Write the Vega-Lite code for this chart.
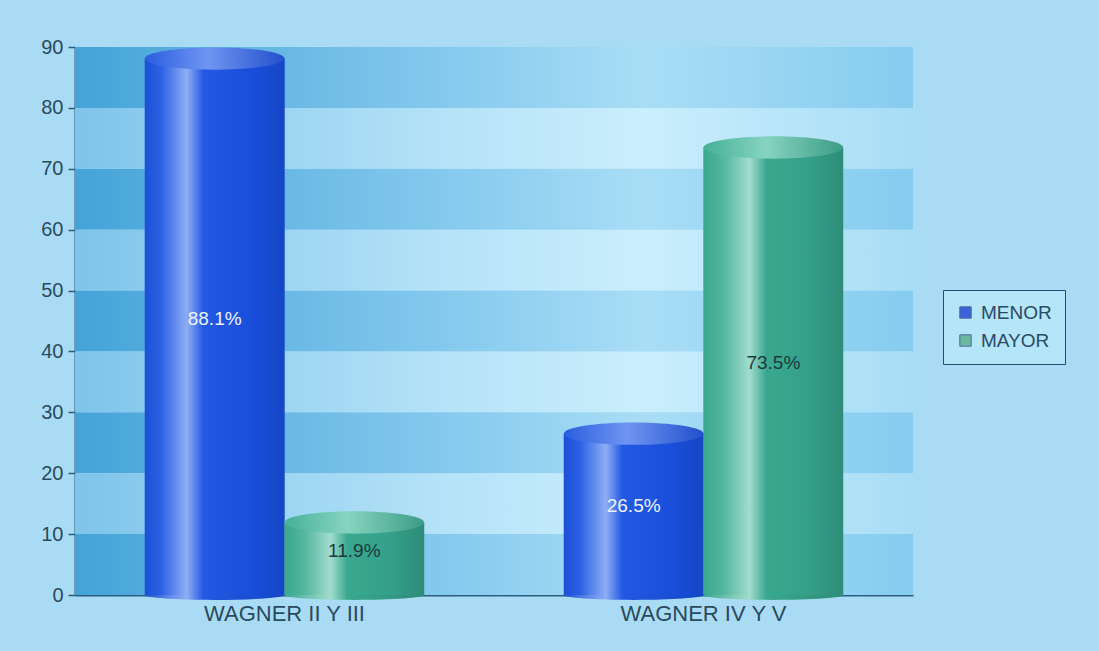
{
  "$schema": "https://vega.github.io/schema/vega-lite/v6.json",
  "autosize": "none",
  "width": 838,
  "height": 548,
  "padding": {"left": 75, "top": 47, "right": 186, "bottom": 56},
  "background": "#a9dcf4",
  "config": {
    "view": {"stroke": null},
    "font": "Liberation Sans"
  },
  "datasets": {
    "bars": [
      {"grupo": "WAGNER II Y III", "serie": "MENOR", "valor": 88.1, "label": "88.1%"},
      {"grupo": "WAGNER II Y III", "serie": "MAYOR", "valor": 11.9, "label": "11.9%"},
      {"grupo": "WAGNER IV Y V", "serie": "MENOR", "valor": 26.5, "label": "26.5%"},
      {"grupo": "WAGNER IV Y V", "serie": "MAYOR", "valor": 73.5, "label": "73.5%"}
    ],
    "bands": [
      {"y0": 0, "y1": 10, "tipo": "dark"},
      {"y0": 10, "y1": 20, "tipo": "light"},
      {"y0": 20, "y1": 30, "tipo": "dark"},
      {"y0": 30, "y1": 40, "tipo": "light"},
      {"y0": 40, "y1": 50, "tipo": "dark"},
      {"y0": 50, "y1": 60, "tipo": "light"},
      {"y0": 60, "y1": 70, "tipo": "dark"},
      {"y0": 70, "y1": 80, "tipo": "light"},
      {"y0": 80, "y1": 90, "tipo": "dark"}
    ]
  },
  "layer": [
    {
      "data": {"name": "bands"},
      "transform": [{"filter": "datum.tipo === 'dark'"}],
      "mark": {"type": "rect", "fill": {"gradient": "linear", "x1": 0, "x2": 1, "y1": 0, "y2": 0, "stops": [
        {"offset": 0, "color": "#45a3d8"},
        {"offset": 0.45, "color": "#86caee"},
        {"offset": 0.68, "color": "#a9ddf6"},
        {"offset": 1, "color": "#86ccef"}]}},
      "encoding": {
        "y": {"field": "y0", "type": "quantitative", "scale": {"domain": [0, 90], "nice": false},
          "axis": {"title": null, "values": [0, 10, 20, 30, 40, 50, 60, 70, 80, 90], "labelFontSize": 20, "labelColor": "#2a4a5e", "tickColor": "#2b5d7d", "tickSize": 7, "tickWidth": 1.5, "labelPadding": 5, "domainColor": "#2b5d7d", "domainWidth": 2, "grid": false}},
        "y2": {"field": "y1"}
      }
    },
    {
      "data": {"name": "bands"},
      "transform": [{"filter": "datum.tipo === 'light'"}],
      "mark": {"type": "rect", "fill": {"gradient": "linear", "x1": 0, "x2": 1, "y1": 0, "y2": 0, "stops": [
        {"offset": 0, "color": "#7fc4ea"},
        {"offset": 0.45, "color": "#b6e3f8"},
        {"offset": 0.68, "color": "#caeefc"},
        {"offset": 1, "color": "#a8ddf6"}]}},
      "encoding": {
        "y": {"field": "y0", "type": "quantitative"},
        "y2": {"field": "y1"}
      }
    },
    {
      "data": {"name": "bars"},
      "mark": {"type": "bar", "opacity": 1},
      "encoding": {
        "x": {"field": "grupo", "type": "nominal", "sort": null, "scale": {"paddingInner": 0, "paddingOuter": 0},
          "axis": {"title": null, "labelAngle": 0, "labelFontSize": 22, "labelColor": "#2a4a5e", "ticks": false, "labelPadding": 8, "domainColor": "#2b5d7d", "domainWidth": 2}},
        "xOffset": {"field": "serie", "type": "nominal", "sort": ["MENOR", "MAYOR"], "scale": {"paddingInner": 0, "paddingOuter": 0.5}},
        "y": {"field": "valor", "type": "quantitative"},
        "color": {"field": "serie", "type": "nominal", "sort": ["MENOR", "MAYOR"],
          "scale": {"domain": ["MENOR", "MAYOR"], "range": ["#3a62d8", "#6ab8a0"]},
          "legend": {"title": null, "orient": "none", "legendX": 868, "legendY": 243, "symbolType": "square", "symbolSize": 130,
            "labelFontSize": 19, "labelColor": "#2a4a66", "rowPadding": 8, "padding": 13,
            "fillColor": "#b5e5f8", "strokeColor": "#1f4f70", "labelOffset": 6, "symbolStrokeColor": "#4a6a9a", "symbolStrokeWidth": 1}}
      }
    },
    {
      "data": {"name": "bars"},
      "transform": [{"filter": "datum.serie === 'MENOR'"}],
      "mark": {"type": "point", "shape": "M-1,0A1,0.07,0,1,0,1,0A1,0.07,0,1,0,-1,0Z", "size": 19500, "filled": true, "opacity": 1, "strokeWidth": 0,
        "fill": {"gradient": "linear", "x1": 0, "x2": 1, "y1": 0, "y2": 0, "stops": [
          {"offset": 0, "color": "#1c50d6"}, {"offset": 0.3, "color": "#8eaef4"}, {"offset": 0.42, "color": "#2358e2"}, {"offset": 1, "color": "#1446c4"}]}},
      "encoding": {
        "x": {"field": "grupo", "type": "nominal", "sort": null},
        "xOffset": {"field": "serie", "type": "nominal", "sort": ["MENOR", "MAYOR"]},
        "y": {"datum": 0, "type": "quantitative"}
      }
    },
    {
      "data": {"name": "bars"},
      "transform": [{"filter": "datum.serie === 'MAYOR'"}],
      "mark": {"type": "point", "shape": "M-1,0A1,0.07,0,1,0,1,0A1,0.07,0,1,0,-1,0Z", "size": 19500, "filled": true, "opacity": 1, "strokeWidth": 0,
        "fill": {"gradient": "linear", "x1": 0, "x2": 1, "y1": 0, "y2": 0, "stops": [
          {"offset": 0, "color": "#3aa68e"}, {"offset": 0.33, "color": "#a2dccd"}, {"offset": 0.45, "color": "#3aa88f"}, {"offset": 1, "color": "#2e8c78"}]}},
      "encoding": {
        "x": {"field": "grupo", "type": "nominal", "sort": null},
        "xOffset": {"field": "serie", "type": "nominal", "sort": ["MENOR", "MAYOR"]},
        "y": {"datum": 0, "type": "quantitative"}
      }
    },
    {
      "data": {"name": "bars"},
      "transform": [{"filter": "datum.serie === 'MENOR'"}],
      "mark": {"type": "bar", "fill": {"gradient": "linear", "x1": 0, "x2": 1, "y1": 0, "y2": 0, "stops": [
        {"offset": 0, "color": "#1c50d6"}, {"offset": 0.12, "color": "#2d62e4"}, {"offset": 0.3, "color": "#8eaef4"}, {"offset": 0.42, "color": "#2358e2"}, {"offset": 0.75, "color": "#1a4fdc"}, {"offset": 1, "color": "#1446c4"}]}},
      "encoding": {
        "x": {"field": "grupo", "type": "nominal", "sort": null},
        "xOffset": {"field": "serie", "type": "nominal", "sort": ["MENOR", "MAYOR"]},
        "y": {"field": "valor", "type": "quantitative"}
      }
    },
    {
      "data": {"name": "bars"},
      "transform": [{"filter": "datum.serie === 'MAYOR'"}],
      "mark": {"type": "bar", "fill": {"gradient": "linear", "x1": 0, "x2": 1, "y1": 0, "y2": 0, "stops": [
        {"offset": 0, "color": "#3aa68e"}, {"offset": 0.15, "color": "#55b8a0"}, {"offset": 0.33, "color": "#a2dccd"}, {"offset": 0.45, "color": "#3aa88f"}, {"offset": 0.75, "color": "#35a08a"}, {"offset": 1, "color": "#2e8c78"}]}},
      "encoding": {
        "x": {"field": "grupo", "type": "nominal", "sort": null},
        "xOffset": {"field": "serie", "type": "nominal", "sort": ["MENOR", "MAYOR"]},
        "y": {"field": "valor", "type": "quantitative"}
      }
    },
    {
      "data": {"name": "bars"},
      "transform": [{"filter": "datum.serie === 'MENOR'"}],
      "mark": {"type": "point", "shape": "M-1,0A1,0.16,0,1,0,1,0A1,0.16,0,1,0,-1,0Z", "size": 19500, "filled": true, "opacity": 1, "strokeWidth": 0,
        "fill": {"gradient": "linear", "x1": 0, "x2": 1, "y1": 0, "y2": 0, "stops": [
          {"offset": 0, "color": "#2a5ee0"}, {"offset": 0.45, "color": "#6f95f2"}, {"offset": 1, "color": "#2250cc"}]}},
      "encoding": {
        "x": {"field": "grupo", "type": "nominal", "sort": null},
        "xOffset": {"field": "serie", "type": "nominal", "sort": ["MENOR", "MAYOR"]},
        "y": {"field": "valor", "type": "quantitative"}
      }
    },
    {
      "data": {"name": "bars"},
      "transform": [{"filter": "datum.serie === 'MAYOR'"}],
      "mark": {"type": "point", "shape": "M-1,0A1,0.16,0,1,0,1,0A1,0.16,0,1,0,-1,0Z", "size": 19500, "filled": true, "opacity": 1, "strokeWidth": 0,
        "fill": {"gradient": "linear", "x1": 0, "x2": 1, "y1": 0, "y2": 0, "stops": [
          {"offset": 0, "color": "#46b098"}, {"offset": 0.45, "color": "#86d4c0"}, {"offset": 1, "color": "#3c9c86"}]}},
      "encoding": {
        "x": {"field": "grupo", "type": "nominal", "sort": null},
        "xOffset": {"field": "serie", "type": "nominal", "sort": ["MENOR", "MAYOR"]},
        "y": {"field": "valor", "type": "quantitative"}
      }
    },
    {
      "data": {"name": "bars"},
      "transform": [{"calculate": "datum.valor / 2", "as": "medio"}],
      "mark": {"type": "text", "fontSize": 19, "baseline": "middle", "dy": -8},
      "encoding": {
        "x": {"field": "grupo", "type": "nominal", "sort": null},
        "xOffset": {"field": "serie", "type": "nominal", "sort": ["MENOR", "MAYOR"]},
        "y": {"field": "medio", "type": "quantitative"},
        "text": {"field": "label"},
        "color": {"condition": {"test": "datum.serie === 'MENOR'", "value": "#eef3ff"}, "value": "#1b3a40"}
      }
    }
  ]
}
